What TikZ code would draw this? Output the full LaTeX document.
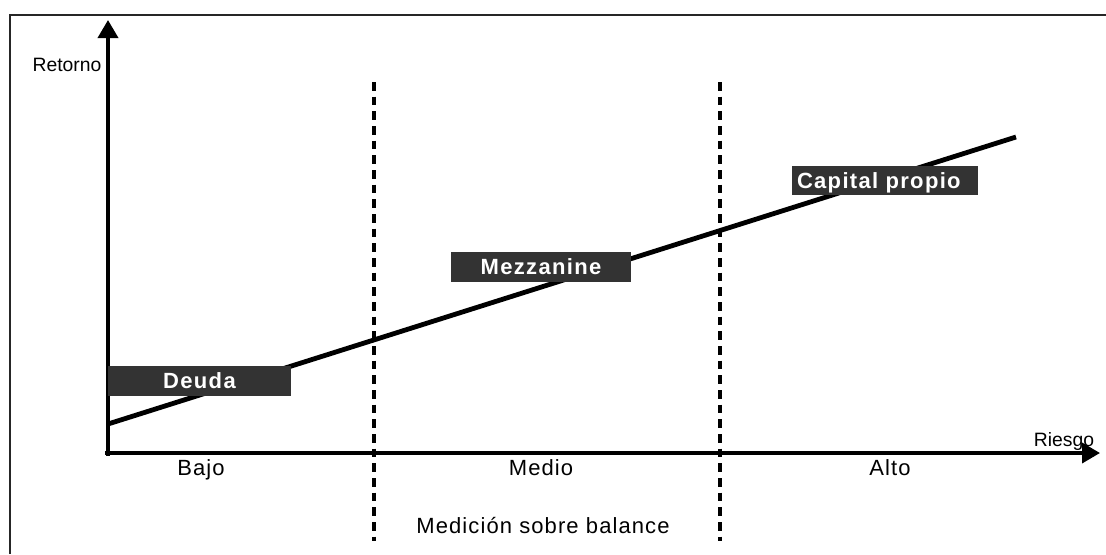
\documentclass[tikz,border=0pt]{standalone}
\usepackage{fontspec}
\setmainfont{Liberation Sans}
\newfontfamily\spaced[LetterSpace=5]{Liberation Sans}
\newfontfamily\spacedb[LetterSpace=6]{Liberation Sans}
\usetikzlibrary{arrows.meta}
\definecolor{boxgray}{HTML}{333333}
\tikzset{
  axis/.style={line width=2.7pt,-{Triangle[length=13.5pt,width=15pt]}},
  tag/.style={fill=boxgray,text=white,inner sep=0pt,minimum height=22.5pt,
    text height=11.25pt,text depth=0pt,font=\spacedb\bfseries\fontsize{16.5}{18}\selectfont},
  lbl/.style={anchor=base,inner sep=0pt,font=\spaced\fontsize{16.5}{18}\selectfont},
  axlbl/.style={anchor=base,inner sep=0pt,font=\fontsize{14.5}{18}\selectfont},
  zone/.style={line width=2.3pt,dash pattern=on 6.5pt off 4.5pt},
}
\begin{document}
\begin{tikzpicture}[x=0.75pt,y=-0.75pt]
        \useasboundingbox (0,0) rectangle (1106,554);
        \fill[white] (0,0) rectangle (1106,554);
        % frame
        \draw[line width=1pt,black!85] (10,554) -- (10,15) -- (1106,15);
        \coordinate (O) at (108,453) {};
        \coordinate (Ytop) at (108,20) {};
        \coordinate (Xend) at (1100,453) {};
        \coordinate (Lo) at (108,424) {};
        \coordinate (Hi) at (1016,137) {};
        \coordinate (D1a) at (374,82) {};
        \coordinate (D1b) at (374,541) {};
        \coordinate (D2a) at (720,82) {};
        \coordinate (D2b) at (720,541) {};
        % zones
        \draw[zone] (D1a) -- (D1b);
        \draw[zone] (D2a) -- (D2b);
        % return line
        \draw[line width=3.6pt] (Lo) -- (Hi);
        % axes
        \draw[axis] ([yshift=-2.2pt]O) -- (Ytop);
        \draw[axis] ([xshift=-2pt]O) -- (Xend);
        \node[axlbl] (ret) at (67,71) {Retorno};
        \node[axlbl] (rie) at (1064,446) {Riesgo};
        \node[lbl] (bajo) at (201,475) {Bajo};
        \node[lbl] (medio) at (541,475) {Medio};
        \node[lbl] (alto) at (890,475) {Alto};
        \node[lbl] (bal) at (543,533) {Medición sobre balance};
        % boxes
        \node[tag,minimum width=137.25pt] (deuda) at (199.5,381) {Deuda};
        \node[tag,minimum width=135pt] (mezz) at (541,267) {Mezzanine};
        \node[tag,minimum height=21.75pt,text width=132pt,inner xsep=3.75pt,align=left] (cap) at (885,180.5) {Capital propio};
\end{tikzpicture}
\end{document}
